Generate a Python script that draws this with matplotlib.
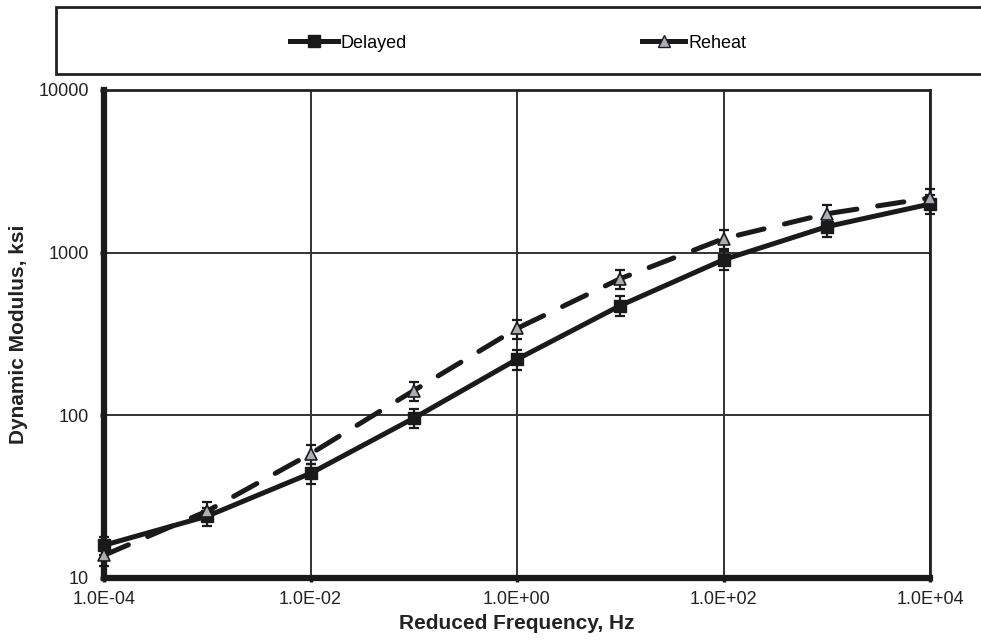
import matplotlib
matplotlib.use("Agg")
import matplotlib.pyplot as plt
from matplotlib.lines import Line2D
from matplotlib.patches import Rectangle
from matplotlib.ticker import FixedLocator, NullLocator

plt.rcParams['font.family'] = ['Liberation Sans', 'DejaVu Sans']

freq = [1e-4, 1e-3, 1e-2, 1e-1, 1e0, 1e1, 1e2, 1e3, 1e4]
delayed = [15.9, 24, 44, 96, 221, 473, 905, 1445, 1990]
delayed_err = [2.0, 3.0, 6.0, 13, 30, 65, 125, 200, 270]
reheat = [13.8, 25.8, 58, 142, 342, 692, 1219, 1734, 2173]
reheat_err = [1.9, 3.5, 8.0, 19, 46, 95, 165, 235, 300]

xticks = [1e-4, 1e-2, 1e0, 1e2, 1e4]
xticklabels = ["1.0E-04", "1.0E-02", "1.0E+00", "1.0E+02", "1.0E+04"]
yticks = [10, 100, 1000, 10000]
yticklabels = ["10", "100", "1000", "10000"]

INK = '#1a1a1a'
fig = plt.figure(figsize=(9.81, 6.40), dpi=100)
ax = fig.add_axes([104/981, 1-578/640, (930-104)/981, (578-90)/640])
ax.set_xscale('log')
ax.set_yscale('log')
ax.set_xlim(1e-4, 1e4)
ax.set_ylim(10, 10000)

ax.xaxis.set_major_locator(FixedLocator(xticks))
ax.yaxis.set_major_locator(FixedLocator(yticks))
ax.xaxis.set_minor_locator(NullLocator())
ax.yaxis.set_minor_locator(NullLocator())
ax.set_xticklabels(xticklabels)
ax.set_yticklabels(yticklabels)
ax.tick_params(axis='both', labelsize=13, length=3, width=2.5, color=INK, labelcolor='#222222')
ax.tick_params(axis='x', pad=6)
ax.tick_params(axis='y', pad=8)
ax.grid(True, color='#333333', linewidth=1.4)
ax.set_axisbelow(True)

for s in ['top', 'right']:
    ax.spines[s].set_linewidth(2.0)
    ax.spines[s].set_color('#222222')
for s in ['left', 'bottom']:
    ax.spines[s].set_linewidth(4.5)
    ax.spines[s].set_color(INK)

ax.errorbar(freq, delayed, yerr=delayed_err, fmt='none', ecolor=INK,
            elinewidth=1.6, capsize=3.6, capthick=1.6, zorder=3, clip_on=False)
ax.errorbar(freq, reheat, yerr=reheat_err, fmt='none', ecolor=INK,
            elinewidth=1.6, capsize=3.6, capthick=1.6, zorder=3, clip_on=False)
ax.plot(freq, delayed, color=INK, linewidth=3.6, marker='s', markersize=9,
        markerfacecolor=INK, markeredgecolor=INK, zorder=4,
        solid_capstyle='round', solid_joinstyle='round', clip_on=False)
ax.plot(freq, reheat, color=INK, linewidth=3.6, dashes=(5.3, 4.2), marker='^',
        markersize=9, markerfacecolor='#a9aeb4', markeredgecolor=INK,
        markeredgewidth=1.2, zorder=5, dash_capstyle='round', clip_on=False)

ax.set_xlabel("Reduced Frequency, Hz", fontsize=15, fontweight='bold', color='#222222', labelpad=5)
ax.set_ylabel("Dynamic Modulus, ksi", fontsize=15, fontweight='bold', color='#222222', labelpad=7)

# legend box
fig.add_artist(Rectangle((56/981, 1-74/640), 1.0, (74-7)/640, transform=fig.transFigure,
                         facecolor='white', edgecolor='#222222', linewidth=2.0))
h1 = Line2D([], [], color=INK, linewidth=3.6, marker='s', markersize=9,
            markerfacecolor=INK, markeredgecolor=INK)
h2 = Line2D([], [], color=INK, linewidth=3.6, marker='^', markersize=8,
            markerfacecolor='#a9aeb4', markeredgecolor=INK)
leg_kw = dict(loc='center left', frameon=False, fontsize=13, borderpad=0,
              borderaxespad=0, handletextpad=0.15)
fig.legend([h1], ["Delayed"], bbox_to_anchor=(290/981, 1-43/640), handlelength=2.65, **leg_kw)
fig.legend([h2], ["Reheat"], bbox_to_anchor=(642/981, 1-43/640), handlelength=2.4, **leg_kw)

fig.savefig("out.png", dpi=100)
